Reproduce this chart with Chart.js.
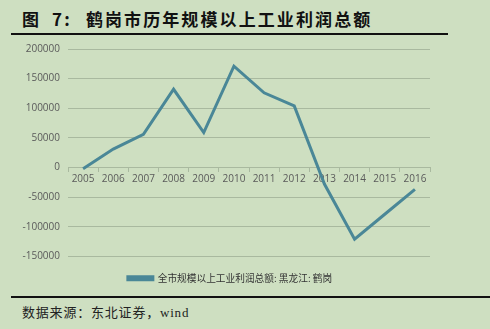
<!DOCTYPE html>
<html>
<head>
<meta charset="utf-8">
<script src="https://cdn.jsdelivr.net/npm/chart.js@4/dist/chart.umd.min.js"></script>
<style>
  html, body { margin: 0; padding: 0; }
  body { width: 490px; height: 329px; background: #cedfc1; position: relative; overflow: hidden; font-family: "Noto Sans CJK SC", sans-serif; }
  #title { position: absolute; left: 22px; top: 6px; font-size: 17px; font-weight: bold; letter-spacing: 2.1px; color: #111; white-space: nowrap; }
  #title .num { margin-left: 11px; }
  #title .txt { margin-left: 14px; }
  #rule-top { position: absolute; left: 11px; top: 33px; width: 437px; height: 2px; background: #111; }
  #rule-bottom { position: absolute; left: 11px; top: 296px; width: 479px; height: 2px; background: #111; }
  #source { position: absolute; left: 22px; top: 302px; font-size: 13px; letter-spacing: 0.8px; color: #222; white-space: nowrap; font-family: "Liberation Serif", "Noto Sans CJK SC", serif; }
  #wrap { position: absolute; left: 0; top: 35px; width: 490px; height: 257px; }
</style>
</head>
<body>
<div id="title"><span>图</span><span class="num">7:</span><span class="txt">鹤岗市历年规模以上工业利润总额</span></div>
<div id="rule-top"></div>
<div id="wrap"><canvas id="c"></canvas></div>
<div id="rule-bottom"></div>
<div id="source">数据来源：东北证券，wind</div>
<script>
// Annual industrial profit of enterprises above designated size, Hegang
const years = ['2005', '2006', '2007', '2008', '2009', '2010', '2011', '2012', '2013', '2014', '2015', '2016'];
const profit = [-2000, 31000, 56000, 132000, 59000, 171000, 126000, 104000, -28000, -121000, -79000, -37000];
const seriesName = '全市规模以上工业利润总额: 黑龙江: 鹤岗';
const yMin = -150000;
const yMax = 200000;
const yStep = 50000;

const lineColor = '#4a8797';
const gridColor = '#a9b99f';
const tickColor = '#5a5a5a';

// nudges the legend box after layout so it sits under the plot, slightly right of centre
const legendNudge = {
  id: 'legendNudge',
  afterLayout(chart) {
    const lg = chart.legend;
    if (!lg) return;
    const dx = 15, dy = 5;
    lg.left += dx; lg.right += dx;
    lg.top += dy; lg.bottom += dy;
  }
};

new Chart(document.getElementById('c'), {
  type: 'line',
  data: {
    labels: years,
    datasets: [{
      label: seriesName,
      data: profit,
      borderColor: lineColor,
      backgroundColor: lineColor,
      borderWidth: 3,
      pointRadius: 0,
      tension: 0
    }]
  },
  plugins: [legendNudge],
  options: {
    responsive: true,
    maintainAspectRatio: false,
    animation: false,
    layout: { padding: { left: 0, right: 60, top: 2, bottom: 4 } },
    plugins: {
      tooltip: { enabled: false },
      legend: {
        position: 'bottom',
        labels: {
          boxWidth: 25,
          boxHeight: 3,
          padding: 12,
          color: '#333',
          font: { family: '"Noto Sans CJK SC"', size: 9.7 }
        }
      }
    },
    scales: {
      x: {
        position: { y: 0 },
        offset: true,
        grid: { offset: true, drawOnChartArea: false, drawTicks: true, tickLength: 4, color: gridColor },
        border: { display: true, color: gridColor, width: 1 },
        ticks: { color: tickColor, font: { family: '"Open Sans", sans-serif', size: 10 }, padding: 2, maxRotation: 0, autoSkip: false }
      },
      y: {
        min: yMin,
        max: yMax,
        afterFit: (scale) => { scale.width = 68; },
        grid: { color: gridColor, drawTicks: false },
        border: { display: false },
        ticks: {
          stepSize: yStep,
          color: tickColor,
          padding: 8,
          font: { family: '"Open Sans", sans-serif', size: 10 },
          callback: (v) => String(v)
        }
      }
    }
  }
});
</script>
</body>
</html>
